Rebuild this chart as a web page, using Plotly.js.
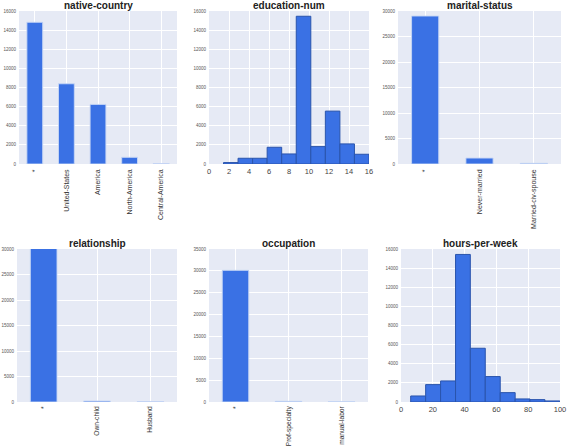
<!DOCTYPE html>
<html><head><meta charset="utf-8">
<script src="https://cdn.plot.ly/plotly-3.0.1.min.js"></script>
<style>html,body{margin:0;padding:0;background:#fff}#chart{width:568px;height:448px}</style>
</head><body><div id="chart"></div>
<script>
// ---- data ----
const countryCats = ["*", "United-States", "America", "North-America", "Central-America"];
const countryVals = [14820, 8390, 6230, 700, 50];

const eduEdges = [1.45, 2.905, 4.36, 5.815, 7.27, 8.725, 10.18, 11.635, 13.09, 14.545, 16.0];
const eduCounts = [150, 600, 600, 1750, 1050, 15450, 1820, 5530, 2100, 1020];

const maritalCats = ["*", "Never-married", "Married-civ-spouse"];
const maritalVals = [29020, 1170, 130];

const relCats = ["*", "Own-child", "Husband"];
const relVals = [30150, 200, 60];

const occCats = ["*", "Prof-specialty", "manual-labor"];
const occVals = [30120, 150, 50];

const hoursEdges = [6.1, 15.5, 24.9, 34.3, 43.6, 53.0, 62.4, 71.8, 81.1, 90.5, 99.9];
const hoursCounts = [630, 1820, 2200, 15430, 5620, 2660, 980, 320, 250, 110];

const titles = ["native-country", "education-num", "marital-status", "relationship", "occupation", "hours-per-week"];

// ---- helpers ----
function centers(e){const c=[];for(let i=0;i<e.length-1;i++)c.push((e[i]+e[i+1])/2);return c;}
function widths(e){const w=[];for(let i=0;i<e.length-1;i++)w.push(e[i+1]-e[i]);return w;}

const W=568,H=448;
const boxes = [
  [19,177,11,164],[209,369,11,164],[398,561,11,164],
  [17,177,249,402],[209,368,249,402],[401,560,249,402]
];
const BAR="#3a71e4";
const catBar = (x,y,i)=>({type:"bar",x:x,y:y,width:0.5,xaxis:"x"+(i===1?"":i),yaxis:"y"+(i===1?"":i),
  marker:{color:BAR,line:{color:"rgba(200,215,245,0.9)",width:1}}});
const histBar = (e,c,i)=>({type:"bar",x:centers(e),y:c,width:widths(e),xaxis:"x"+i,yaxis:"y"+i,
  marker:{color:BAR,line:{color:"#2a54ac",width:1}}});

const data=[
  catBar(countryCats,countryVals,1),
  histBar(eduEdges,eduCounts,2),
  catBar(maritalCats,maritalVals,3),
  catBar(relCats,relVals,4),
  catBar(occCats,occVals,5),
  histBar(hoursEdges,hoursCounts,6)
];

const layout={width:W,height:H,margin:{l:0,r:0,t:0,b:0},showlegend:false,
  paper_bgcolor:"#fff",plot_bgcolor:"#e6eaf5",bargap:0,
  font:{family:"Liberation Sans, Arial, sans-serif"},annotations:[]};

const yr=[[0,16000,2000],[0,16000,2000],[0,30000,5000],[0,30000,5000],[0,35000,5000],[0,16000,2000]];
boxes.forEach((b,k)=>{
  const i=k+1, sx=(i===1?"":i);
  const isHist=(i===2||i===6);
  const xa={domain:[b[0]/W,b[1]/W],anchor:"y"+sx,showgrid:true,gridcolor:"#ffffff",gridwidth:1,
    zeroline:false,showline:false,ticks:"",fixedrange:true};
  if(isHist){
    xa.type="linear";
    xa.range = i===2?[0,16]:[0,100];
    xa.dtick = i===2?2:20; xa.tick0=0;
    xa.tickfont={size:7.5,color:"#444"};
    xa.ticklabelstandoff=1;
  } else {
    xa.type="category";
    const n=[5,5,3,3,3,3][k];
    xa.range=[-0.5,n-0.5];
    xa.tickangle=-90;
    xa.tickfont={size:(k>=3?6.6:7),color:"#333"};
    xa.ticklabelstandoff=(k>=3?2:3);
  }
  const ya={domain:[1-b[3]/H,1-b[2]/H],anchor:"x"+sx,range:[yr[k][0],yr[k][1]],dtick:yr[k][2],tick0:0,
    tickformat:"d",
    showgrid:true,gridcolor:"#ffffff",gridwidth:1,zeroline:false,showline:false,ticks:"",
    tickfont:{size:4.5,color:"#555"},ticklabelstandoff:2,fixedrange:true};
  layout["xaxis"+sx]=xa; layout["yaxis"+sx]=ya;
  layout.annotations.push({text:"<b>"+titles[k]+"</b>",xref:"paper",yref:"paper",
    x:((b[0]+b[1])/2)/W,y:1-(b[2]-6)/H,xanchor:"center",yanchor:"middle",showarrow:false,
    font:{size:10,color:"#222",family:"Liberation Sans, Arial, sans-serif"}});
});

Plotly.newPlot("chart",data,layout,{displayModeBar:false,staticPlot:true});
</script></body></html>
